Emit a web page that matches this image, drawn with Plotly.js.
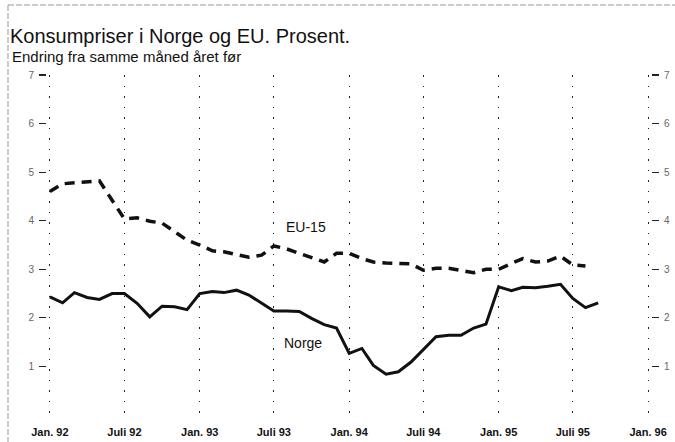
<!DOCTYPE html>
<html>
<head>
<meta charset="utf-8">
<script src="https://cdn.plot.ly/plotly-3.0.1.min.js"></script>
<style>
  html, body { margin: 0; padding: 0; background: #fff; }
  #chart { width: 675px; height: 442px; }
</style>
</head>
<body>
<div id="chart"></div>
<script>
// Monthly observations, Jan 1992 - Sep 1995
const months = [
    '1992-01-01', '1992-02-01', '1992-03-01', '1992-04-01', '1992-05-01', '1992-06-01',
    '1992-07-01', '1992-08-01', '1992-09-01', '1992-10-01', '1992-11-01', '1992-12-01',
    '1993-01-01', '1993-02-01', '1993-03-01', '1993-04-01', '1993-05-01', '1993-06-01',
    '1993-07-01', '1993-08-01', '1993-09-01', '1993-10-01', '1993-11-01', '1993-12-01',
    '1994-01-01', '1994-02-01', '1994-03-01', '1994-04-01', '1994-05-01', '1994-06-01',
    '1994-07-01', '1994-08-01', '1994-09-01', '1994-10-01', '1994-11-01', '1994-12-01',
    '1995-01-01', '1995-02-01', '1995-03-01', '1995-04-01', '1995-05-01', '1995-06-01',
    '1995-07-01', '1995-08-01', '1995-09-01'
];

const norge = [
    2.43, 2.31, 2.52, 2.42, 2.38, 2.50, 2.50, 2.30, 2.02, 2.24, 2.23, 2.17,
    2.50, 2.54, 2.52, 2.57, 2.47, 2.30, 2.14, 2.14, 2.13, 1.99, 1.86, 1.79,
    1.27, 1.37, 1.02, 0.84, 0.89, 1.09, 1.35, 1.61, 1.64, 1.64, 1.79, 1.87,
    2.64, 2.56, 2.63, 2.62, 2.65, 2.69, 2.40, 2.21, 2.31
];

// EU-15 stops one month earlier (Aug 1995)
const eu15 = [
    4.60, 4.76, 4.78, 4.80, 4.82, 4.42, 4.04, 4.06, 3.99, 3.95, 3.77, 3.60,
    3.50, 3.38, 3.36, 3.30, 3.25, 3.29, 3.48, 3.42, 3.33, 3.25, 3.15, 3.33,
    3.33, 3.22, 3.15, 3.13, 3.12, 3.11, 2.98, 3.02, 3.02, 2.98, 2.93, 3.00,
    3.00, 3.12, 3.22, 3.15, 3.17, 3.27, 3.09, 3.07
];

const tickDates = ['1992-01-01', '1992-07-01', '1993-01-01', '1993-07-01', '1994-01-01',
    '1994-07-01', '1995-01-01', '1995-07-01', '1996-01-01'];
const tickLabels = ['Jan. 92', 'Juli 92', 'Jan. 93', 'Juli 93', 'Jan. 94',
    'Juli 94', 'Jan. 95', 'Juli 95', 'Jan. 96'];
const yTicks = [1, 2, 3, 4, 5, 6, 7];

const data = [
    {
        x: months,
        y: eu15,
        type: 'scatter',
        mode: 'lines',
        name: 'EU-15',
        line: { color: '#111', width: 3.5, dash: '10px,7px' }
    },
    {
        x: months.slice(0, norge.length),
        y: norge,
        type: 'scatter',
        mode: 'lines',
        name: 'Norge',
        line: { color: '#111', width: 3 }
    },
    {
        // invisible copy so the right-hand axis gets drawn
        x: months.slice(0, norge.length),
        y: norge,
        yaxis: 'y2',
        type: 'scatter',
        mode: 'lines',
        line: { width: 0 },
        hoverinfo: 'skip',
        showlegend: false
    }
];

const yAxisCommon = {
    range: [0, 7],
    tickvals: yTicks,
    ticks: 'outside',
    ticklen: 7,
    tickwidth: 1.2,
    tickcolor: '#222',
    ticklabelstandoff: 3,
    tickfont: { family: 'Liberation Sans', size: 10, color: '#666' },
    showgrid: false,
    zeroline: false,
    showline: false,
    fixedrange: true
};

const layout = {
    width: 675,
    height: 442,
    margin: { l: 47, r: 24, t: 75, b: 27 },
    paper_bgcolor: '#fff',
    plot_bgcolor: '#fff',
    showlegend: false,
    title: {
        text: 'Konsumpriser i Norge og EU. Prosent.',
        xref: 'container',
        yref: 'container',
        x: 10 / 675,
        xanchor: 'left',
        y: 1 - 29 / 442,
        yanchor: 'top',
        font: { family: 'Liberation Sans', size: 20, color: '#111' }
    },
    xaxis: {
        type: 'date',
        range: ['1991-12-25', '1996-01-08'],
        tickvals: tickDates,
        ticktext: tickLabels,
        ticks: '',
        ticklabelstandoff: 9,
        showgrid: true,
        gridcolor: '#222',
        gridwidth: 1.2,
        griddash: '1.5px,9px',
        zeroline: false,
        showline: false,
        tickfont: { family: 'Liberation Sans Narrow, Liberation Sans', size: 11, color: '#111', weight: 'bold' },
        fixedrange: true
    },
    yaxis: Object.assign({ side: 'left' }, yAxisCommon),
    yaxis2: Object.assign({ side: 'right', overlaying: 'y' }, yAxisCommon),
    annotations: [
        {
            text: 'Endring fra samme måned året før',
            xref: 'paper', yref: 'paper',
            x: (10 - 47) / 604, y: (415 - 46) / 340,
            xanchor: 'left', yanchor: 'top',
            showarrow: false,
            font: { family: 'Liberation Sans', size: 15, color: '#111' }
        },
        {
            text: 'EU-15',
            x: '1993-09-18', y: 3.87,
            showarrow: false,
            font: { family: 'Liberation Sans', size: 14, color: '#111' }
        },
        {
            text: 'Norge',
            x: '1993-09-10', y: 1.48,
            showarrow: false,
            font: { family: 'Liberation Sans', size: 14, color: '#111' }
        }
    ],
    shapes: [
        // faint scan frame along the top and left edge
        { type: 'line', xref: 'paper', yref: 'paper', x0: (8 - 47) / 604, x1: (675 - 47) / 604,
          y0: (415 - 5) / 340, y1: (415 - 5) / 340, line: { color: '#999', width: 1, dash: '6px,2px' } },
        { type: 'line', xref: 'paper', yref: 'paper', x0: (8 - 47) / 604, x1: (8 - 47) / 604,
          y0: (415 - 5) / 340, y1: (415 - 442) / 340, line: { color: '#999', width: 1, dash: '6px,2px' } }
    ]
};

Plotly.newPlot('chart', data, layout, { displayModeBar: false, staticPlot: true });
</script>
</body>
</html>
